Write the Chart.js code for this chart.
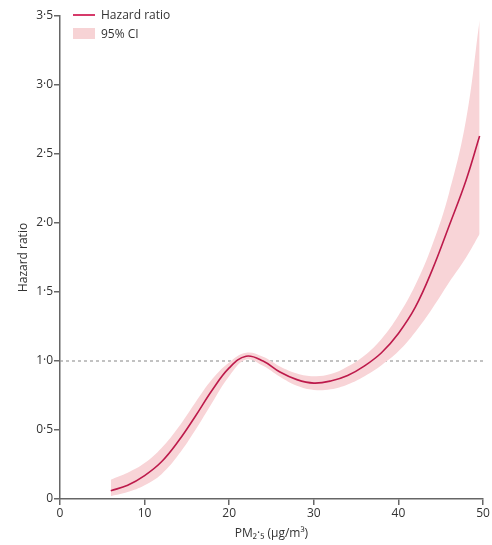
<!DOCTYPE html>
<html>
<head>
<meta charset="utf-8">
<script src="https://cdn.jsdelivr.net/npm/chart.js@4"></script>
<style>
  html, body { margin: 0; padding: 0; background: #fff; }
  #wrap { position: relative; width: 492px; height: 545px; }
  .legend { position: absolute; left: 73px; top: 5px; font: 12px "Open Sans", sans-serif; color: #333; }
  .legend div { height: 19px; display: flex; align-items: center; }
  .swatch-line { width: 22px; height: 0; border-top: 2px solid #d63a6a; margin-right: 6px; }
  .swatch-box { width: 22px; height: 11px; background: #f7d3d5; margin-right: 6px; }
</style>
</head>
<body>
<div id="wrap">
  <canvas id="myChart" width="492" height="545"></canvas>
  <div class="legend">
    <div><span class="swatch-line"></span>Hazard ratio</div>
    <div><span class="swatch-box"></span>95% CI</div>
  </div>
</div>
<script>
// PM2.5 values (µg/m³) and hazard ratio
const pm = [6, 8, 10, 12, 14, 16, 18, 20, 22, 24, 26, 28, 30, 32, 34, 36, 38, 40, 42, 44, 46, 48, 49.6];
const hazard = [0.06, 0.10, 0.17, 0.27, 0.42, 0.60, 0.79, 0.95, 1.035, 1.00, 0.92, 0.865, 0.84, 0.855, 0.895, 0.965, 1.06, 1.20, 1.39, 1.66, 1.98, 2.31, 2.63];
const ciUpper = [0.14, 0.19, 0.26, 0.37, 0.52, 0.70, 0.87, 0.99, 1.06, 1.03, 0.96, 0.91, 0.89, 0.905, 0.96, 1.04, 1.16, 1.33, 1.55, 1.84, 2.22, 2.75, 3.47];
const ciLower = [0.02, 0.05, 0.10, 0.18, 0.32, 0.50, 0.70, 0.89, 1.01, 0.965, 0.885, 0.82, 0.79, 0.795, 0.83, 0.89, 0.97, 1.07, 1.21, 1.38, 1.57, 1.75, 1.92];
const refLine = [{ x: 0, y: 1 }, { x: 50, y: 1 }];

const toPts = arr => arr.map((v, i) => ({ x: pm[i], y: v }));
const fmt = v => v === 0 ? '0' : v.toFixed(1).replace('.', '·');

var ctx = document.getElementById('myChart');

var myChart = new Chart(ctx, {
  type: 'line',
  data: {
    datasets: [
      {
        label: 'Hazard ratio',
        data: toPts(hazard),
        borderColor: '#bd1a4b',
        borderWidth: 1.6,
        pointRadius: 0,
        fill: false,
        tension: 0.4
      },
      {
        label: 'upper',
        data: toPts(ciUpper),
        borderWidth: 0,
        pointRadius: 0,
        backgroundColor: '#f8d4d7',
        fill: '+1',
        tension: 0.4
      },
      {
        label: 'lower',
        data: toPts(ciLower),
        borderWidth: 0,
        pointRadius: 0,
        fill: false,
        tension: 0.4
      },
      {
        label: 'ref',
        data: refLine,
        borderColor: '#9a9a9a',
        borderWidth: 1.2,
        borderDash: [3, 3],
        pointRadius: 0,
        fill: false
      }
    ]
  },
  options: {
    responsive: false,
    animation: false,
    layout: { padding: { top: 16, right: 9, left: 12, bottom: 0 } },
    plugins: { legend: { display: false }, tooltip: { enabled: false } },
    scales: {
      x: {
        type: 'linear',
        min: 0, max: 50,
        border: { color: '#666', width: 1.5 },
        grid: { drawOnChartArea: false, tickLength: 6, color: '#666', lineWidth: 1.5 },
        ticks: { stepSize: 10, color: '#333', font: { family: 'Open Sans', size: 12 }, padding: 1 },
        title: { display: true, text: 'PM₂·₅ (μg/m³)', color: '#333', font: { family: 'Open Sans', size: 12 }, padding: { top: 1 } },
        afterFit: s => { s.height = 46; }
      },
      y: {
        min: 0, max: 3.5,
        border: { color: '#666', width: 1.5 },
        grid: { drawOnChartArea: false, tickLength: 6, color: '#666', lineWidth: 1.5 },
        ticks: { stepSize: 0.5, color: '#333', font: { family: 'Open Sans', size: 12 }, padding: 1, callback: v => fmt(v) },
        title: { display: true, text: 'Hazard ratio', color: '#333', font: { family: 'Open Sans', size: 12 }, padding: { bottom: 2 } },
        afterFit: s => { s.width = 48; }
      }
    }
  }
});
</script>
</body>
</html>
